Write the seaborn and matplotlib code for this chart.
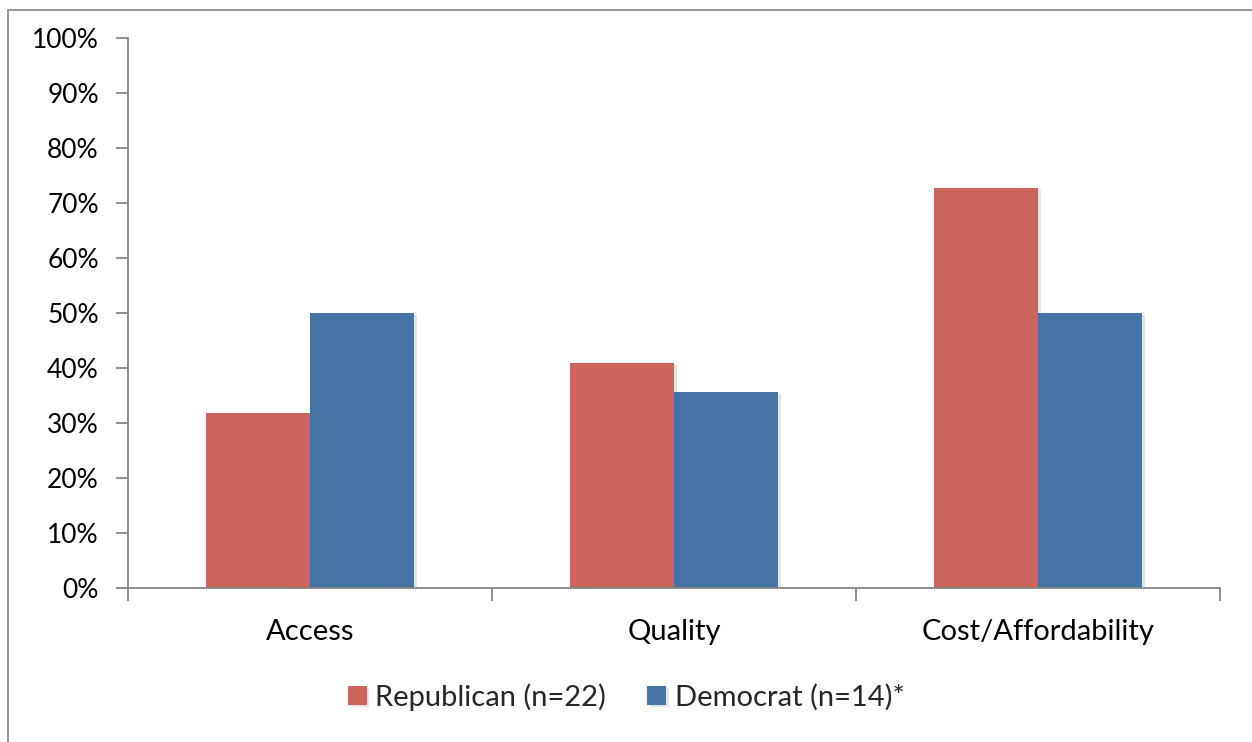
import matplotlib
matplotlib.use("Agg")
import matplotlib.pyplot as plt
import matplotlib.patheffects as pe
from matplotlib.patches import Rectangle
from matplotlib.ticker import PercentFormatter, FixedLocator
import pandas as pd
import seaborn as sns

# Share of respondents naming each issue, by party
categories = ["Access", "Quality", "Cost/Affordability"]
republican = [31.8, 40.9, 72.7]
democrat = [50.0, 35.7, 50.0]
series = ["Republican (n=22)", "Democrat (n=14)*"]
colors = ["#CB655E", "#4573A3"]

df = pd.DataFrame({
    "category": categories * 2,
    "value": republican + democrat,
    "party": [series[0]] * 3 + [series[1]] * 3,
})

sns.set_theme(style="white")
plt.rcParams["font.family"] = ["Lato", "DejaVu Sans"]

W, H = 1252, 742
fig = plt.figure(figsize=(W / 100, H / 100), dpi=100)

# outer chart frame
fig.patches.append(Rectangle((8 / W, -0.05), 1.2, (H - 10) / H + 0.05,
                             transform=fig.transFigure, fill=False,
                             edgecolor="#8C8C8C", linewidth=1.3))

ax = fig.add_axes([128 / W, (H - 588) / H, (1220 - 128) / W, 550 / H])
sns.barplot(data=df, x="category", y="value", hue="party", order=categories,
            hue_order=series, palette=colors, width=0.574, saturation=1,
            ax=ax, legend=True)

for bar in ax.patches:
    bar.set_edgecolor("none")
    bar.set_path_effects([pe.SimplePatchShadow(offset=(2, -1.5), alpha=0.12),
                          pe.Normal()])

ax.set_xlim(-0.5, 2.5)
ax.set_ylim(0, 100)
ax.yaxis.set_major_locator(FixedLocator(range(0, 101, 10)))
ax.yaxis.set_major_formatter(PercentFormatter(decimals=0))
ax.set_xlabel("")
ax.set_ylabel("")

for side in ("top", "right"):
    ax.spines[side].set_visible(False)
for side in ("left", "bottom"):
    ax.spines[side].set_color("#868686")
    ax.spines[side].set_linewidth(1.3)

ax.xaxis.set_minor_locator(FixedLocator([-0.5, 0.5, 1.5, 2.5]))
ax.tick_params(axis="x", which="major", length=0, pad=22, labelsize=21,
               labelcolor="black")
ax.tick_params(axis="x", which="minor", length=9, width=1.3, color="#868686",
               direction="out", bottom=True)
ax.tick_params(axis="y", which="major", length=9, width=1.3, color="#868686",
               direction="out", left=True, pad=12, labelsize=19,
               labelcolor="black")

handles, labels = ax.get_legend_handles_labels()
ax.legend(handles, labels, loc="center", bbox_to_anchor=(0.5, (H - 697) / H),
          bbox_transform=fig.transFigure, ncol=2, frameon=False,
          fontsize=21, handlelength=0.65, handleheight=0.65,
          handletextpad=0.3, columnspacing=1.4)

fig.savefig("out.png", dpi=100)
